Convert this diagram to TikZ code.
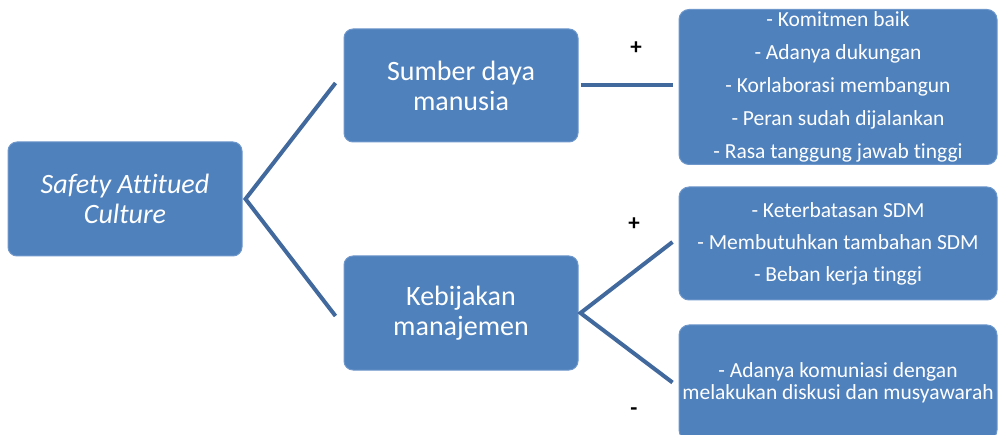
\documentclass[tikz,border=0pt]{standalone}
\usepackage{fontspec}
\setmainfont{Carlito}[Ligatures={NoCommon}]
\definecolor{boxblue}{HTML}{4F81BD}
\definecolor{boxrim}{HTML}{6E97CB}
\definecolor{linkblue}{HTML}{41699E}
\tikzset{
  topic/.style={draw=boxrim, fill=boxblue, line width=1pt, rounded corners=9pt,
    text=white, align=center, inner sep=0pt, font=\fontsize{28}{30}\selectfont},
  notes/.style={draw=boxrim, fill=boxblue, line width=1pt, rounded corners=10pt,
    text=white, align=center, inner sep=0pt, minimum width=318pt},
  link/.style={draw=linkblue, line width=4pt},
  sign/.style={font=\fontsize{23}{24}\selectfont\bfseries}
}
\begin{document}
\begin{tikzpicture}[x=1pt, y=-1pt]
  \useasboundingbox (0,0) rectangle (998,435);
  \clip (0,0) rectangle (998,435);
  % left and middle
  \node[topic, minimum width=234pt, minimum height=114pt] (root) at (125,199)
    {\itshape Safety Attitued\\\itshape Culture};
  \node[topic, minimum width=234pt, minimum height=113pt] (sdm) at (461,85.5)
    {Sumber daya\\manusia};
  \node[topic, minimum width=234pt, minimum height=114pt] (kebijakan) at (461,313)
    {Kebijakan\\manajemen};
  % right
  \node[notes, minimum height=155pt, font=\fontsize{21.5}{33}\selectfont] (hasil1) at (838,87)
    {- Komitmen baik\\- Adanya dukungan\\- Korlaborasi membangun\\- Peran sudah dijalankan\\- Rasa tanggung jawab tinggi};
  \node[notes, minimum height=113pt, font=\fontsize{21.5}{32}\selectfont] (hasil2) at (838,243.5)
    {- Keterbatasan SDM\\- Membutuhkan tambahan SDM\\- Beban kerja tinggi};
  \node[notes, minimum height=115pt, font=\fontsize{21.5}{22}\selectfont] (hasil3) at (838,382.5)
    {- Adanya komuniasi dengan\\melakukan diskusi dan musyawarah};
  % links
  \draw[link] ([xshift=-8pt,yshift=2.5pt]sdm.west) -- ([xshift=3pt]root.east)
    -- ([xshift=-8pt,yshift=-3pt]kebijakan.west);
  \draw[link] ([xshift=2pt]sdm.east) -- ([xshift=-6pt,yshift=1.5pt]hasil1.west);
  \draw[link] ([xshift=-6pt,yshift=1.5pt]hasil2.west) -- ([xshift=2pt]kebijakan.east)
    -- ([xshift=-6pt]hasil3.west);
  \node[sign] (plus1) at (636,48) {+};
  \node[sign] (plus2) at (634,224) {+};
  \node[sign] (minus) at (634,412) {-};
\end{tikzpicture}
\end{document}
